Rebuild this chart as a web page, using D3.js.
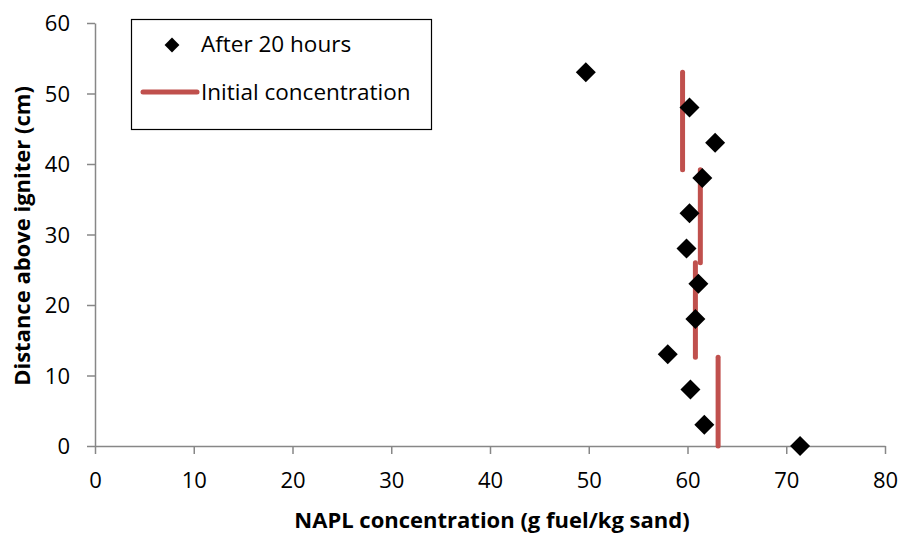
<!DOCTYPE html>
<html lang="en">
<head>
	<meta charset="UTF-8"/>
	<title>NAPL concentration</title>
	<script src="https://d3js.org/d3.v7.min.js"></script>
	<style>
		body { margin: 0; background: #fff; }
		text { font-family: "Open Sans", "Liberation Sans", sans-serif; fill: #000; }
	</style>
</head>
<body>
	<script>

	var w = 903;
	var h = 533;

	// after 20 hours (diamonds)
	var napl = [49.7, 60.2, 62.8, 61.5, 60.2, 59.9, 61.1, 60.8, 58.0, 60.3, 61.7, 71.4];
	var dist = [53, 48, 43, 38, 33, 28, 23, 18, 13, 8, 3, 0];

	// initial concentration (vertical segments)
	var initX = [59.5, 61.3, 60.8, 63.1];
	var initTop = [53, 39.2, 26, 12.6];
	var initBottom = [39.2, 26, 12.6, 0];

	var xTicks = [0, 10, 20, 30, 40, 50, 60, 70, 80];
	var yTicks = [0, 10, 20, 30, 40, 50, 60];

	var xScale = d3.scaleLinear()
				.domain([0, 80])
				.range([95, 885]);

	var yScale = d3.scaleLinear()
				.domain([0, 60])
				.range([446, 23]);

	var svg = d3.select("body")
				.append("svg")
				.attr("width", w)
				.attr("height", h);

	// axes
	var xAxis = d3.axisBottom(xScale).tickValues(xTicks).tickSize(8).tickSizeOuter(0);
	var yAxis = d3.axisLeft(yScale).tickValues(yTicks).tickSize(8).tickSizeOuter(0);

	var gx = svg.append("g")
		.attr("transform", "translate(0," + yScale(0) + ")")
		.call(xAxis);
	var gy = svg.append("g")
		.attr("transform", "translate(" + xScale(0) + ",0)")
		.call(yAxis);

	[gx, gy].forEach(function(g) {
		g.select(".domain").attr("stroke", "#878787").attr("stroke-width", 1.5);
		g.selectAll(".tick line").attr("stroke", "#878787").attr("stroke-width", 1.5);
		g.selectAll(".tick text")
			.attr("font-size", 22)
			.attr("fill", "#000");
	});
	gx.selectAll(".tick text").attr("y", 42).attr("dy", 0);
	gy.selectAll(".tick text").attr("x", -25).attr("dy", "0.36em");

	// initial concentration lines
	svg.selectAll("line.init")
		.data(initX)
		.enter()
		.append("line")
		.attr("class", "init")
		.attr("x1", function(d) { return xScale(d); })
		.attr("x2", function(d) { return xScale(d); })
		.attr("y1", function(d, i) { return yScale(initTop[i]); })
		.attr("y2", function(d, i) { return yScale(initBottom[i]); })
		.attr("stroke", "#c0504d")
		.attr("stroke-width", 5)
		.attr("stroke-linecap", "round");

	// diamonds
	var diamond = d3.symbol().type(d3.symbolSquare).size(200);
	svg.selectAll("path.pt")
		.data(napl)
		.enter()
		.append("path")
		.attr("class", "pt")
		.attr("d", diamond)
		.attr("transform", function(d, i) {
			return "translate(" + xScale(d) + "," + yScale(dist[i]) + ") rotate(45)";
		})
		.attr("fill", "#000");

	// legend
	var lg = svg.append("g");
	lg.append("rect")
		.attr("x", 131.5).attr("y", 19.5)
		.attr("width", 300).attr("height", 110)
		.attr("fill", "#fff")
		.attr("stroke", "#000")
		.attr("stroke-width", 1.2);
	lg.append("path")
		.attr("d", d3.symbol().type(d3.symbolSquare).size(110))
		.attr("transform", "translate(172,45) rotate(45)")
		.attr("fill", "#000");
	lg.append("text")
		.attr("x", 201).attr("y", 52)
		.attr("font-size", 22.5)
		.text("After 20 hours");
	lg.append("line")
		.attr("x1", 143).attr("x2", 197)
		.attr("y1", 92).attr("y2", 92)
		.attr("stroke", "#c0504d")
		.attr("stroke-width", 5)
		.attr("stroke-linecap", "round");
	lg.append("text")
		.attr("x", 201).attr("y", 100)
		.attr("font-size", 22.5)
		.text("Initial concentration");

	// axis titles
	svg.append("text")
		.attr("x", 492).attr("y", 528)
		.attr("text-anchor", "middle")
		.attr("font-size", 22)
		.attr("font-weight", "bold")
		.text("NAPL concentration (g fuel/kg sand)");

	svg.append("text")
		.attr("transform", "translate(30,236) rotate(-90)")
		.attr("text-anchor", "middle")
		.attr("font-size", 22)
		.attr("font-weight", "bold")
		.text("Distance above igniter (cm)");
	</script>
</body>
</html>
